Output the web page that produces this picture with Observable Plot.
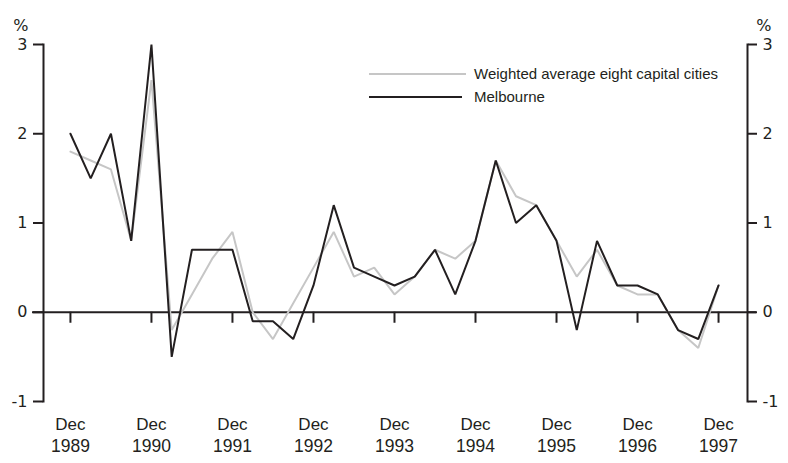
<!DOCTYPE html>
<html>
<head>
<meta charset="utf-8">
<script src="https://cdn.jsdelivr.net/npm/d3@7"></script>
<script src="https://cdn.jsdelivr.net/npm/@observablehq/plot@0.6"></script>
<style>
  html, body { margin: 0; padding: 0; background: #fff; }
  #wrap { position: relative; width: 788px; height: 463px; }
  #legend { position: absolute; left: 369px; top: 64px; font-family: "Liberation Sans", Arial, sans-serif; font-size: 15px; color: #231f20; }
  .row { position: relative; height: 23px; }
  .sw { position: absolute; left: 0; top: 9px; height: 0; border-top: 2px solid; }
  .lab { position: absolute; left: 105px; top: 0; line-height: 20px; white-space: nowrap; }
</style>
</head>
<body>
<div id="wrap"></div>
<script>
// Quarterly percentage change, Dec 1989 – Dec 1997
const quarterLabels = [];
const months = ["Mar", "Jun", "Sep", "Dec"];
for (let y = 1989; y <= 1997; y++) for (const m of months) {
  if (y === 1989 && m !== "Dec") continue;
  quarterLabels.push(m + " " + y);
}
const melbourne = [2.0, 1.5, 2.0, 0.8, 3.0, -0.5, 0.7, 0.7, 0.7, -0.1, -0.1, -0.3, 0.3, 1.2, 0.5, 0.4, 0.3,
                   0.4, 0.7, 0.2, 0.8, 1.7, 1.0, 1.2, 0.8, -0.2, 0.8, 0.3, 0.3, 0.2, -0.2, -0.3, 0.3];
const weighted  = [1.8, 1.7, 1.6, 0.8, 2.6, -0.2, 0.2, 0.6, 0.9, 0.0, -0.3, 0.1, 0.5, 0.9, 0.4, 0.5, 0.2,
                   0.4, 0.7, 0.6, 0.8, 1.7, 1.3, 1.2, 0.8, 0.4, 0.7, 0.3, 0.2, 0.2, -0.2, -0.4, 0.3];
const seriesNames = ["Weighted average eight capital cities", "Melbourne"];
const seriesColors = ["#c6c6c6", "#231f20"];
const yTicks = [-1, 0, 1, 2, 3];
const tickMonth = "Dec";
const tickYears = ["1989", "1990", "1991", "1992", "1993", "1994", "1995", "1996", "1997"];
const unitLabel = "%";

const rows = [];
quarterLabels.forEach((q, i) => {
  rows.push({i, q, series: seriesNames[0], value: weighted[i]});
  rows.push({i, q, series: seriesNames[1], value: melbourne[i]});
});
const decIdx = tickYears.map(y => quarterLabels.indexOf(tickMonth + " " + y));

const ink = "#231f20";
const font = "'Liberation Sans', Arial, sans-serif";

const chart = Plot.plot({
  width: 788,
  height: 463,
  marginLeft: 43,
  marginRight: 41,
  marginTop: 44,
  marginBottom: 62,
  style: {fontFamily: font, color: ink, background: "#fff"},
  x: {type: "linear", domain: [-1.33, 33.43], axis: null},
  y: {domain: [-1, 3], axis: null},
  color: {domain: seriesNames, range: seriesColors},
  marks: [
    Plot.frame({anchor: "left", stroke: ink, strokeWidth: 2}),
    Plot.frame({anchor: "right", stroke: ink, strokeWidth: 2}),
    Plot.axisY({anchor: "left", ticks: yTicks, tickSize: 10, tickPadding: 6, tickFormat: d => String(d),
                stroke: ink, strokeWidth: 2, fontSize: 16, fontFamily: "'DejaVu Sans', sans-serif", fill: ink, label: null}),
    Plot.axisY({anchor: "right", ticks: yTicks, tickSize: 9, tickPadding: 6, tickFormat: d => String(d),
                stroke: ink, strokeWidth: 2, fontSize: 16, fontFamily: "'DejaVu Sans', sans-serif", fill: ink, label: null}),
    Plot.text([unitLabel], {frameAnchor: "top-left", textAnchor: "end", dx: -15, dy: -25, fontSize: 16,
                            fontFamily: "'DejaVu Sans', sans-serif", fill: ink}),
    Plot.text([unitLabel], {frameAnchor: "top-right", textAnchor: "end", dx: 24, dy: -25, fontSize: 16,
                            fontFamily: "'DejaVu Sans', sans-serif", fill: ink}),
    Plot.ruleY([0], {stroke: ink, strokeWidth: 2.2, insetLeft: -11, insetRight: -9}),
    Plot.ruleX(decIdx, {x: d => d, y1: 0, y2: 0, insetBottom: -11, stroke: ink, strokeWidth: 2}),
    Plot.text(decIdx, {x: d => d, text: () => tickMonth, frameAnchor: "bottom", dy: 28, fontSize: 17,
                       fontFamily: font, fill: ink}),
    Plot.text(decIdx, {x: d => d, text: (d, k) => tickYears[k], frameAnchor: "bottom", dy: 50.5, fontSize: 17.5,
                       fontFamily: font, fill: ink}),
    Plot.line(rows, {x: "i", y: "value", z: "series", stroke: "series", strokeWidth: 2, strokeLinejoin: "miter"})
  ]
});

const wrap = document.getElementById("wrap");
wrap.appendChild(chart);

const legend = document.createElement("div");
legend.id = "legend";
const swWidths = [97, 93];
seriesNames.forEach((name, k) => {
  const row = document.createElement("div");
  row.className = "row";
  const sw = document.createElement("span");
  sw.className = "sw";
  sw.style.borderTopColor = seriesColors[k];
  sw.style.width = swWidths[k] + "px";
  const lab = document.createElement("span");
  lab.className = "lab";
  lab.textContent = name;
  row.appendChild(sw);
  row.appendChild(lab);
  legend.appendChild(row);
});
wrap.appendChild(legend);
</script>
</body>
</html>
